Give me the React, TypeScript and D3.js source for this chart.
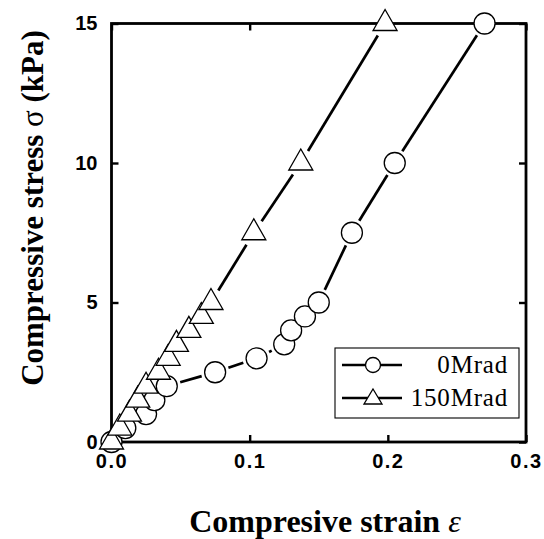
import React, { useEffect, useRef } from 'react';
import * as d3 from 'd3';

// compressive strain / stress
const strain0 = [0, 0.01, 0.025, 0.031, 0.04, 0.075, 0.105, 0.125, 0.13, 0.14, 0.15, 0.174, 0.205, 0.27];
const stress0 = [0, 0.5, 1.0, 1.5, 2.0, 2.5, 3.0, 3.5, 4.0, 4.5, 5.0, 7.5, 10, 15];
const strain150 = [0, 0.006, 0.013, 0.019, 0.025, 0.034, 0.041, 0.047, 0.056, 0.065, 0.072, 0.103, 0.137, 0.198];
const stress150 = [0, 0.5, 1.0, 1.5, 2.0, 2.5, 3.0, 3.5, 4.0, 4.5, 5.0, 7.5, 10, 15];
const seriesNames = ['0Mrad', '150Mrad'];
const xTicks = [0, 0.1, 0.2, 0.3];
const yTicks = [0, 5, 10, 15];

const W = 544;
const H = 539;
const left = 111.5, right = 526, top = 23.5, bottom = 442;

function trianglePath(cx: number, cy: number, w: number, h: number) {
  return `M${cx},${cy - (2 * h) / 3}L${cx + w / 2},${cy + h / 3}L${cx - w / 2},${cy + h / 3}Z`;
}

export default function App() {
  const ref = useRef<SVGSVGElement>(null);

  useEffect(() => {
    const svg = d3.select(ref.current);
    svg.selectAll('*').remove();

    const x = d3.scaleLinear().domain([0, 0.3]).range([left, right]);
    const y = d3.scaleLinear().domain([0, 15]).range([bottom, top]);
    const tickFont = '"Liberation Sans Narrow", "Liberation Sans", sans-serif';

    // bottom axis
    const gx = svg.append('g').attr('transform', `translate(0,${bottom})`)
      .call(d3.axisBottom(x).tickValues(xTicks).tickSize(-7).tickPadding(12).tickFormat(d3.format('.1f')));
    // left axis
    const gy = svg.append('g').attr('transform', `translate(${left},0)`)
      .call(d3.axisLeft(y).tickValues(yTicks).tickSize(-7).tickPadding(14).tickFormat(d3.format('d')));
    // top & right inner ticks
    const gt = svg.append('g').attr('transform', `translate(0,${top})`)
      .call(d3.axisTop(x).tickValues(xTicks).tickSize(-7).tickFormat(() => ''));
    const gr = svg.append('g').attr('transform', `translate(${right},0)`)
      .call(d3.axisRight(y).tickValues(yTicks).tickSize(-7).tickFormat(() => ''));

    [gx, gy, gt, gr].forEach(g => {
      g.select('.domain').remove();
      g.selectAll('line').attr('stroke', '#000').attr('stroke-width', 2.4);
      g.selectAll('text').attr('fill', '#000').attr('font-family', tickFont)
        .attr('font-size', 20).attr('font-weight', 'bold');
    });
    gx.selectAll('text').attr('letter-spacing', 1.5);

    // frame
    svg.append('rect').attr('x', left).attr('y', top)
      .attr('width', right - left).attr('height', bottom - top)
      .attr('fill', 'none').attr('stroke', '#000').attr('stroke-width', 2.8);

    const series = [
      { name: seriesNames[0], xs: strain0, ys: stress0, shape: 'circle' },
      { name: seriesNames[1], xs: strain150, ys: stress150, shape: 'triangle' },
    ];

    const gap = 14;
    series.forEach(s => {
      const pts = s.xs.map((v, i) => [x(v), y(s.ys[i])]);
      const g = svg.append('g');
      for (let i = 0; i < pts.length - 1; i++) {
        const [x1, y1] = pts[i];
        const [x2, y2] = pts[i + 1];
        const len = Math.hypot(x2 - x1, y2 - y1);
        if (len <= 2 * gap + 1) continue;
        const ux = (x2 - x1) / len, uy = (y2 - y1) / len;
        g.append('line')
          .attr('x1', x1 + ux * gap).attr('y1', y1 + uy * gap)
          .attr('x2', x2 - ux * gap).attr('y2', y2 - uy * gap)
          .attr('stroke', '#000').attr('stroke-width', 2.7);
      }
      pts.forEach(([px, py]) => {
        if (s.shape === 'circle') {
          g.append('circle').attr('cx', px).attr('cy', py).attr('r', 10.5)
            .attr('fill', '#fff').attr('stroke', '#000').attr('stroke-width', 1.3);
        } else {
          g.append('path').attr('d', trianglePath(px, py, 24, 21))
            .attr('fill', '#fff').attr('stroke', '#000').attr('stroke-width', 1.3);
        }
      });
    });

    // legend
    const lg = svg.append('g');
    lg.append('rect').attr('x', 335).attr('y', 348).attr('width', 184).attr('height', 70)
      .attr('fill', '#fff').attr('stroke', '#000').attr('stroke-width', 1.1);
    series.forEach((s, i) => {
      const ly = 365 + i * 33;
      lg.append('line').attr('x1', 342).attr('x2', 402).attr('y1', ly).attr('y2', ly)
        .attr('stroke', '#000').attr('stroke-width', 2.7);
      if (s.shape === 'circle') {
        lg.append('circle').attr('cx', 373).attr('cy', ly).attr('r', 7.5)
          .attr('fill', '#fff').attr('stroke', '#000').attr('stroke-width', 1.3);
      } else {
        lg.append('path').attr('d', trianglePath(373, ly + 1, 18, 15))
          .attr('fill', '#fff').attr('stroke', '#000').attr('stroke-width', 1.3);
      }
      lg.append('text').attr('x', 508).attr('y', ly + 8).attr('text-anchor', 'end')
        .attr('font-family', '"Liberation Serif", serif').attr('font-size', 25)
        .attr('letter-spacing', 0.8)
        .text(s.name);
    });

    // axis titles
    const xt = svg.append('text').attr('x', 325).attr('y', 532).attr('text-anchor', 'middle')
      .attr('font-family', '"Liberation Serif", serif').attr('font-size', 32).attr('font-weight', 'bold');
    xt.append('tspan').text('Compresive strain  ');
    xt.append('tspan').attr('font-weight', 'normal').attr('font-style', 'italic').text('ε');

    const yt = svg.append('text').attr('transform', `translate(43,208) rotate(-90)`)
      .attr('text-anchor', 'middle')
      .attr('font-family', '"Liberation Serif", serif').attr('font-size', 31).attr('font-weight', 'bold');
    yt.append('tspan').text('Compressive stress ');
    yt.append('tspan').attr('font-weight', 'normal').text('σ');
    yt.append('tspan').text(' (kPa)');
  }, []);

  return (
    <svg ref={ref} width={W} height={H} viewBox={`0 0 ${W} ${H}`}
      style={{ position: 'absolute', left: 0, top: 0, background: '#fff' }} />
  );
}
